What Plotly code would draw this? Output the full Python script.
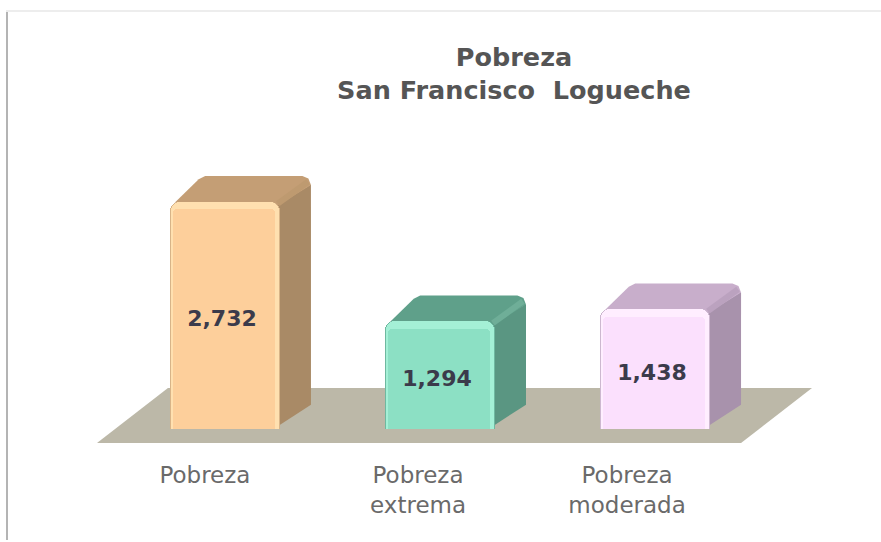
import plotly.graph_objects as go

# Data
categories = ["Pobreza", "Pobreza<br>extrema", "Pobreza<br>moderada"]
values = [2732, 1294, 1438]
labels = ["<b>2,732</b>", "<b>1,294</b>", "<b>1,438</b>"]
title_text = "Pobreza<br>San Francisco  Logueche"

# Colours per bar
front = ["#FDCF9B", "#8CE0C4", "#FBE0FD"]
glow = ["#FFE0B0", "#A4F0D6", "#FFEEFF"]
edge = ["#D8B488", "#6FB8A0", "#CDB8D0"]
top_face = ["#C49E75", "#5FA08A", "#C8AECB"]
side_face = ["#A98A66", "#5A9682", "#A892AC"]
ridge = ["#BE9A70", "#6FAE98", "#BBA2BF"]

# Layout (pixels)
W, H = 881, 542
L, R, T, B = 97, 69, 60, 99
XR = (-0.595, 2.73)
YR = (-168.5, 4440)
BAR_W = 0.512
DX, DY = 0.144, 313   # depth of the 3D effect, in axis units
CX, CY = 0.04, 110    # size of the softened back corners
TICK_SHIFT = [-0.093, -0.102, -0.13]  # axis labels sit left of the bar fronts

fig = go.Figure()
slots = list(range(len(values)))


def bar(vals, width, color, radius, text=None, shift=0.0):
    fig.add_trace(go.Bar(
        x=[s + shift for s in slots], y=vals, width=width,
        marker=dict(color=color, line=dict(width=0), cornerradius=radius),
        text=text, textposition="inside" if text else None, insidetextanchor="middle",
        textangle=0, constraintext="none",
        textfont=dict(family="DejaVu Sans", size=22, color="#3B3B4B"),
        hoverinfo="skip", showlegend=False))


bar(values, BAR_W, edge, 9)
bar(values, BAR_W - 0.012, glow, 9)
bar([v - 90 for v in values], BAR_W - 0.038, front, 4, shift=-0.005)
bar([v - 70 for v in values], BAR_W, "rgba(0,0,0,0)", 9, labels, shift=-0.014)

pw, ph = W - L - R, H - T - B


def px(p):
    return (p - L) / pw


def py(p):
    return 1 - (p - T) / ph


def poly(xs, ys):
    return "M " + " L ".join(f"{x:.4f},{y:.1f}" for x, y in zip(xs, ys)) + " Z"


floor_x = [XR[0], -0.265, XR[1], 2.4]
floor_y = [YR[0], 493, 493, YR[0]]

shapes = [
    dict(type="path", path=poly(floor_x, floor_y), xref="x", yref="y", fillcolor="#BCB8A8",
         line=dict(width=0), layer="below"),
    dict(type="rect", xref="paper", yref="paper", x0=px(6), x1=px(8), y0=py(12), y1=py(540),
         fillcolor="#B4B4B4", line=dict(width=0), layer="below"),
    dict(type="rect", xref="paper", yref="paper", x0=px(6), x1=px(881), y0=py(12), y1=py(10),
         fillcolor="#EDEDED", line=dict(width=0), layer="below"),
]

for i, v in enumerate(values):
    a = i - BAR_W / 2
    b = i + BAR_W / 2
    # side face (behind the front)
    shapes.append(dict(type="path", xref="x", yref="y", layer="below", line=dict(width=0),
                       fillcolor=side_face[i],
                       path=poly([b - 0.03, b + DX - 0.004, b + DX, b + DX, b - 0.03],
                                 [v - 60, v + DY - CY, v + DY - CY, DY - 20, 0])))
    # top face
    shapes.append(dict(type="path", xref="x", yref="y", layer="below", line=dict(width=0),
                       fillcolor=top_face[i],
                       path=poly([a + 0.022, a + DX - 0.01, a + DX + 0.02, b + DX - CX, b + DX - 0.012, b + DX,
                                  b + DX, b - 0.02],
                                 [v - 10, v + DY - 40, v + DY, v + DY, v + DY - 30, v + DY - CY,
                                  v + DY - CY, v - 60])))
    # lighter ridge between top and side
    shapes.append(dict(type="line", xref="x", yref="y", layer="below", line=dict(color=ridge[i], width=6),
                       x0=b - 0.01, y0=v - 20, x1=b + DX - 0.014, y1=v + DY - 70))

fig.update_layout(
    width=W, height=H, margin=dict(l=L, r=R, t=T, b=B),
    paper_bgcolor="white", plot_bgcolor="rgba(0,0,0,0)",
    barmode="overlay", bargap=0, showlegend=False, shapes=shapes,
    title=dict(text=f"<b>{title_text}</b>", x=514 / W, xanchor="center", y=1 - 66 / H, yanchor="middle",
               font=dict(family="DejaVu Sans", size=25.5, color="#555555")),
    xaxis=dict(range=XR, tickmode="array", tickvals=[s + d for s, d in zip(slots, TICK_SHIFT)], ticktext=categories,
               showgrid=False, zeroline=False, showline=False,
               ticks="outside", ticklen=11, tickcolor="rgba(0,0,0,0)",
               tickfont=dict(family="DejaVu Sans", size=23, color="#6A6A6A")),
    yaxis=dict(range=YR, visible=False),
)
fig.write_html("out.html", config={"displayModeBar": False},
               post_script="document.body.style.margin='0';window.dispatchEvent(new Event('resize'));")
